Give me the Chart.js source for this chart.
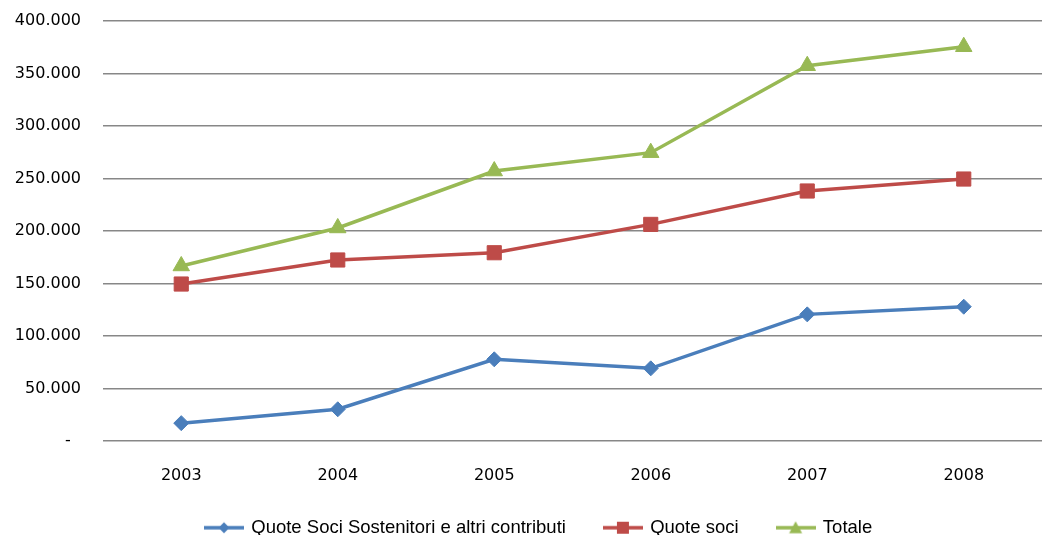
<!DOCTYPE html>
<html>
<head>
<meta charset="utf-8">
<script src="https://cdn.jsdelivr.net/npm/chart.js@4"></script>
<style>
  html, body { margin: 0; padding: 0; overflow: hidden; background: #fff; }
  #wrap { position: absolute; left: 0; top: 0; width: 1053px; height: 535px; }
</style>
</head>
<body>
<div id="wrap"><canvas id="myChart"></canvas></div>
<script>
//data
const years = ["2003", "2004", "2005", "2006", "2007", "2008"];
const quoteSostenitori = [17000, 30200, 77800, 69200, 120600, 127900];
const quoteSoci = [149500, 172400, 179300, 206300, 238100, 249500];
const totale = [166700, 202900, 257100, 274600, 357400, 375500];
const yTickLabels = ["-  ", "50.000", "100.000", "150.000", "200.000", "250.000", "300.000", "350.000", "400.000"];

//colors
const blue = "rgb(74, 126, 187)";
const red = "rgb(190, 75, 72)";
const green = "rgb(152, 185, 84)";

//legend icons: line with marker
function legendIcon(color, marker) {
  const c = document.createElement("canvas");
  c.width = 40;
  c.height = 16;
  const ctx = c.getContext("2d");
  ctx.strokeStyle = color;
  ctx.fillStyle = color;
  ctx.lineWidth = 3.5;
  ctx.beginPath();
  ctx.moveTo(0, 8);
  ctx.lineTo(40, 8);
  ctx.stroke();
  ctx.beginPath();
  if (marker == "diamond") {
    ctx.moveTo(20, 2.5);
    ctx.lineTo(25.5, 8);
    ctx.lineTo(20, 13.5);
    ctx.lineTo(14.5, 8);
  } else if (marker == "square") {
    ctx.rect(14, 2, 12, 12);
  } else {
    ctx.moveTo(20, 1.5);
    ctx.lineTo(26.5, 13.5);
    ctx.lineTo(13.5, 13.5);
  }
  ctx.closePath();
  ctx.fill();
  return c;
}
const legendIcons = [
  legendIcon(blue, "diamond"),
  legendIcon(red, "square"),
  legendIcon(green, "triangle"),
];

//move legend where it sits in the original
const legendPlacer = {
  id: "legendPlacer",
  afterLayout(chart) {
    const lg = chart.legend;
    const h = lg.height;
    lg.left = 167;
    lg.right = chart.width;
    lg.top = 479.5;
    lg.bottom = lg.top + h;
  },
};

const data = {
  labels: years,
  datasets: [
    {
      label: "Quote Soci Sostenitori e altri contributi",
      data: quoteSostenitori,
      borderColor: blue,
      backgroundColor: blue,
      borderWidth: 3.5,
      pointStyle: "rectRot",
      pointRadius: 7.5,
      pointBorderWidth: 1,
    },
    {
      label: "Quote soci",
      data: quoteSoci,
      borderColor: red,
      backgroundColor: red,
      borderWidth: 3.5,
      pointStyle: "rect",
      pointRadius: 10,
      pointBorderWidth: 1,
    },
    {
      label: "Totale",
      data: totale,
      borderColor: green,
      backgroundColor: green,
      borderWidth: 3.5,
      pointStyle: "triangle",
      pointRadius: 9.5,
      pointBorderWidth: 1,
    },
  ],
};

const config = {
  type: "line",
  data: data,
  plugins: [legendPlacer],
  options: {
    responsive: true,
    maintainAspectRatio: false,
    animation: false,
    layout: { padding: { top: 21, left: 0, right: 0, bottom: -19.5 } },
    elements: { line: { tension: 0 } },
    scales: {
      x: {
        offset: true,
        grid: { display: false, drawTicks: false },
        border: { display: false },
        ticks: {
          color: "#000",
          padding: 25,
          font: { family: "DejaVu Sans", size: 16 },
        },
        afterFit: (scale) => {
          scale.height = 46;
        },
      },
      y: {
        min: 0,
        max: 400000,
        grid: { color: "#878787", lineWidth: 1.5, drawTicks: false },
        border: { display: false },
        ticks: {
          stepSize: 50000,
          color: "#000",
          padding: 22,
          font: { family: "DejaVu Sans", size: 16 },
          callback: (value, index) => yTickLabels[index],
        },
        afterFit: (scale) => {
          scale.width = 103;
          scale.paddingTop = 0;
          scale.paddingBottom = 0;
        },
      },
    },
    plugins: {
      tooltip: { enabled: false },
      legend: {
        position: "bottom",
        align: "start",
        labels: {
          color: "#000",
          usePointStyle: true,
          pointStyleWidth: 36,
          padding: 39,
          font: { family: "Liberation Sans", size: 18.5 },
          generateLabels: (chart) => {
            const items = Chart.defaults.plugins.legend.labels.generateLabels(chart);
            items.forEach((it, i) => {
              it.pointStyle = legendIcons[i];
            });
            return items;
          },
        },
      },
    },
  },
};

const myChart = new Chart(document.getElementById("myChart"), config);
</script>
</body>
</html>
